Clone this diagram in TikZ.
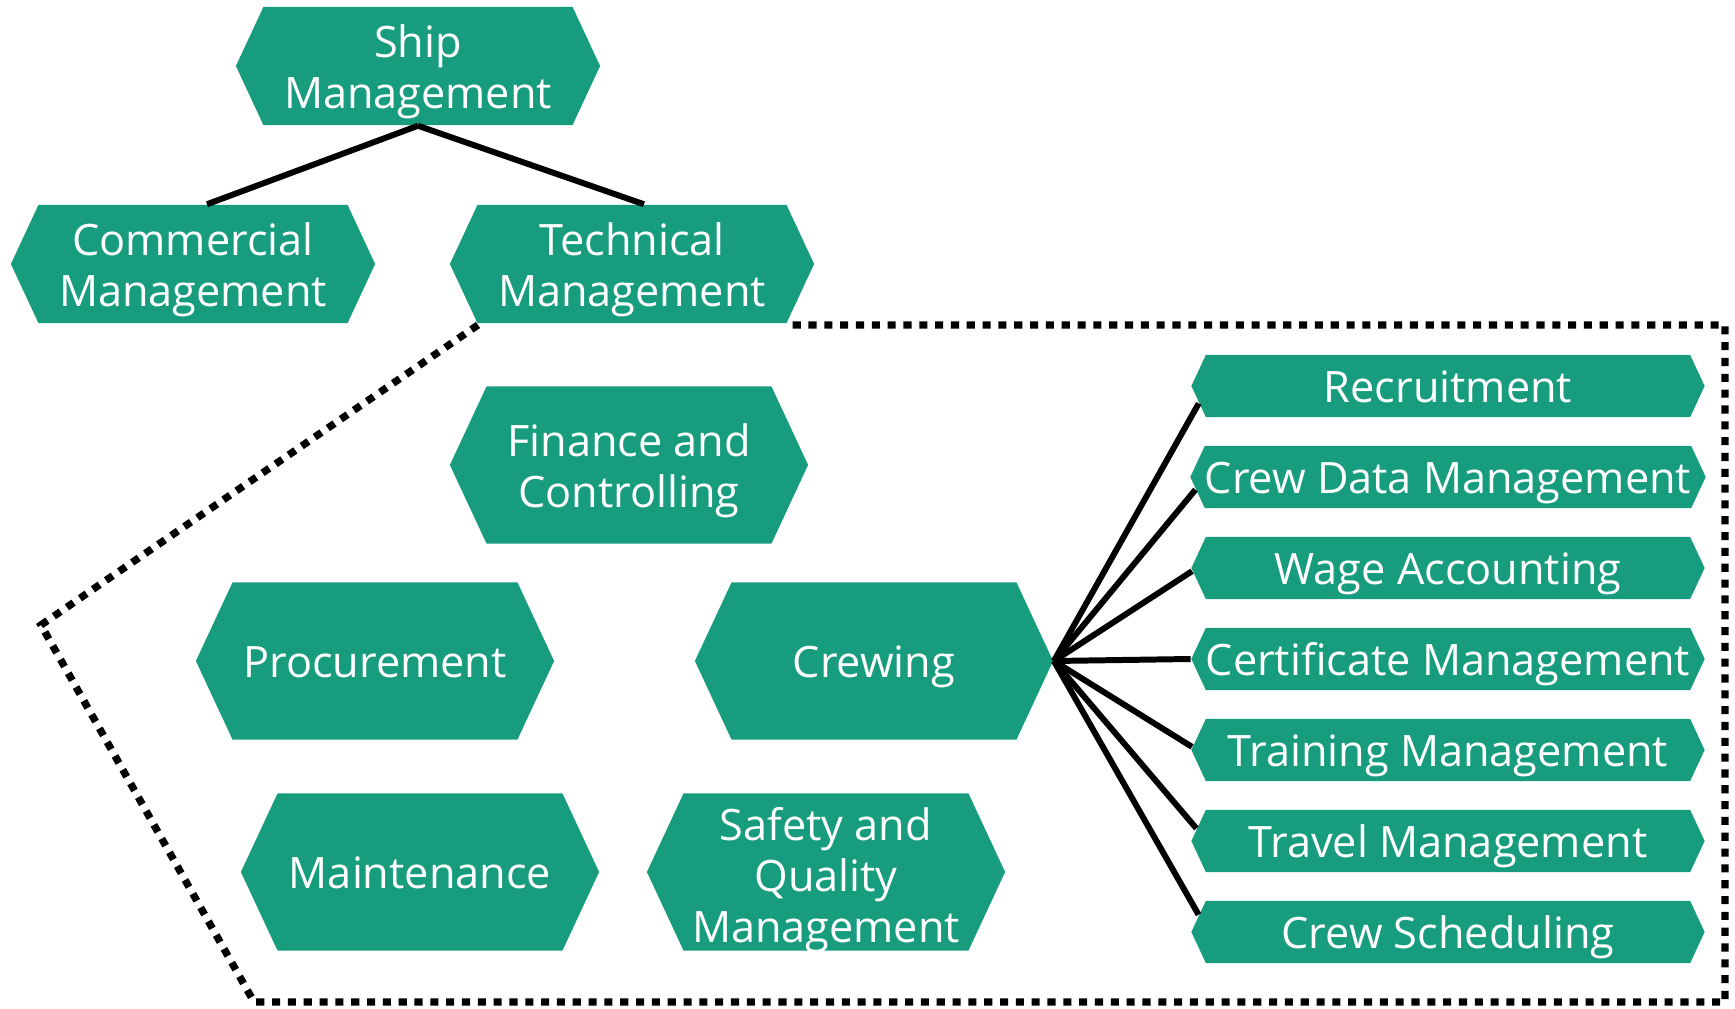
\documentclass[tikz,border=0pt]{standalone}
\usepackage{fontspec}
\setmainfont{Open Sans}
\usetikzlibrary{shapes.symbols, calc}
\definecolor{shipgreen}{HTML}{179C7D}

\tikzset{
  hexa/.style={signal, signal to=west and east, signal pointer angle=130,
    fill=shipgreen, draw=none, text=white, align=center, inner sep=0pt,
    font=\fontsize{12.3}{14.5}\selectfont,
    text height=13.2pt, text depth=3.6pt},
  % text box of two and three lines
  twolines/.style={text height=27.7pt},
  threelines/.style={text height=42.2pt, text depth=2.3pt},
  tophex/.style={hexa, twolines, minimum width=3.64cm, minimum height=1.18cm},
  bighex/.style={hexa, minimum width=3.58cm, minimum height=1.57cm},
  taskhex/.style={hexa, minimum width=5.13cm, minimum height=0.62cm},
  link/.style={line width=1.7pt},
  area/.style={line width=2.1pt, dash pattern=on 2.3pt off 2.2pt}
}

\begin{document}
\begin{tikzpicture}[x=0.01cm,y=-0.01cm]
  \useasboundingbox (0,0) rectangle (1735,1009);

  % organisation tree
  \node[tophex] (ship) at (418,66) {Ship\\Management};
  \node[tophex] (comm) at (193,264) {Commercial\\Management};
  \node[tophex] (tech) at (632,264) {Technical\\Management};
  \draw[link] (ship.south) -- ($(comm.north)+(14,0)$);
  \draw[link] (ship.south) -- ($(tech.north)+(12,0)$);

  % departments of technical management
  \node[bighex, twolines] (fin) at (629,465) {Finance and\\Controlling};
  \node[bighex] (proc) at (375,661) {Procurement};
  \node[bighex] (crew) at (874,661) {Crewing};
  \node[bighex] (maint) at (420,872) {Maintenance};
  \node[bighex, threelines] (safety) at (826,872) {Safety and\\Quality\\Management};

  % crewing tasks
  \node[taskhex] (rec) at (1448,386) {Recruitment};
  \node[taskhex] (data) at (1448,477) {Crew Data Management};
  \node[taskhex] (wage) at (1448,568) {Wage Accounting};
  \node[taskhex] (cert) at (1448,659) {Certificate Management};
  \node[taskhex] (train) at (1448,750) {Training Management};
  \node[taskhex] (travel) at (1448,841) {Travel Management};
  \node[taskhex] (sched) at (1448,932) {Crew Scheduling};

  \draw[link] (crew.east) -- ($(rec.west)!0.55!(rec.south west)$);
  \draw[link] (crew.east) -- ($(data.west)!0.4!(data.south west)$);
  \draw[link] (crew.east) -- ($(wage.west)!0.1!(wage.south west)$);
  \draw[link] (crew.east) -- (cert.west);
  \draw[link] (crew.east) -- ($(train.west)!0.1!(train.north west)$);
  \draw[link] (crew.east) -- ($(travel.west)!0.4!(travel.north west)$);
  \draw[link] (crew.east) -- ($(sched.west)!0.55!(sched.north west)$);

  % dotted frame round the technical departments
  \coordinate (fa) at (478,325);
  \coordinate (fb) at (786,325);
  \draw[area] (fa) -- (41,625) -- (254,1002) -- (1725,1002) -- (1725,325) -- (fb);
\end{tikzpicture}
\end{document}
